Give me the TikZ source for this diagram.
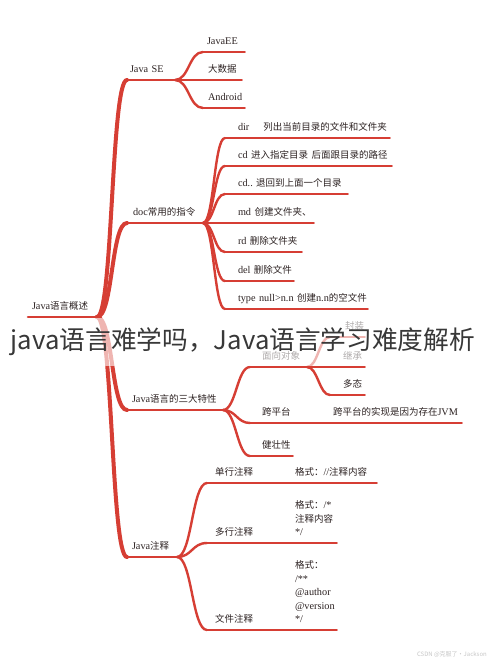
\documentclass[tikz,border=0pt]{standalone}
\usepackage{fontspec}
\setmainfont[Scale=1.08]{Liberation Serif}
\newfontfamily\cjk{Noto Sans CJK SC}
\newfontfamily\titlefont{Noto Sans CJK SC}
\definecolor{mmred}{RGB}{214,62,52}
\definecolor{mmtext}{RGB}{45,35,35}
\newcommand\zh[1]{{\cjk #1}}
\newcommand\cc[4]{\draw[#1] (#2.south east) .. controls +(#4,0) and +(-#4,0) .. (#3.south west);}
\begin{document}
\begin{tikzpicture}[x=1pt,y=-1pt,
  lbl/.style={anchor=south west, inner xsep=0pt, inner ysep=5.3pt, outer sep=0pt, align=left,
    text=mmtext, font=\fontsize{9.5}{13.5}\selectfont,
    execute at end node={\rule[-2.2pt]{0pt}{9pt}}},
  br1/.style={draw=mmred, line width=4pt, line cap=round},
  br2/.style={draw=mmred, line width=2.4pt, line cap=round},
  ul1/.style={draw=mmred, line width=2.6pt, line cap=round},
  ul2/.style={draw=mmred, line width=1.8pt, line cap=round}]
\useasboundingbox (0,0) rectangle (490,663);
\fill[white] (0,0) rectangle (490,663);

% level 0 / 1
\node[lbl, text width=69pt] (root) at (28,317) {\hspace*{4pt}Java\zh{语言概述}};
\node[lbl, text width=48pt] (javase) at (127,80) {\hspace*{3pt}Java~SE};
\node[lbl, text width=76pt] (doc) at (127,223) {\hspace*{6pt}doc\zh{常用的指令}};
\node[lbl, text width=96pt] (tz) at (127,410) {\hspace*{5pt}Java\zh{语言的三大特性}};
\node[lbl, text width=50pt] (zs) at (127,557) {\hspace*{5pt}Java\zh{注释}};

% Java SE
\node[lbl, text width=42pt] (jee) at (203,52) {\hspace*{4pt}JavaEE};
\node[lbl, text width=39pt] (bigdata) at (203,80) {\hspace*{5pt}\zh{大数据}};
\node[lbl, text width=42pt] (android) at (203,108) {\hspace*{5pt}Android};

% doc
\node[lbl, text width=165pt] (d1) at (225,138) {\hspace*{13pt}dir\hspace{14pt}\zh{列出当前目录的文件和文件夹}};
\node[lbl, text width=167pt] (d2) at (225,166) {\hspace*{13pt}cd~\zh{进入指定目录}~\zh{后面跟目录的路径}};
\node[lbl, text width=123pt] (d3) at (225,194) {\hspace*{13pt}cd..~\zh{退回到上面一个目录}};
\node[lbl, text width=89pt] (d4) at (225,223) {\hspace*{13pt}md~\zh{创建文件夹、}};
\node[lbl, text width=77pt] (d5) at (225,252) {\hspace*{13pt}rd~\zh{删除文件夹}};
\node[lbl, text width=69pt] (d6) at (225,281) {\hspace*{13pt}del~\zh{删除文件}};
\node[lbl, text width=143pt] (d7) at (225,309) {\hspace*{13pt}type~null>n.n~\zh{创建}n.n\zh{的空文件}};

% three features
\node[lbl, text width=57pt] (oo) at (250,367) {\hspace*{12pt}\zh{面向对象}};
\node[lbl, text width=35pt] (fz) at (330,337) {\hspace*{15pt}\zh{封装}};
\node[lbl, text width=35pt] (jc) at (330,367) {\hspace*{13pt}\zh{继承}};
\node[lbl, text width=35pt] (dt) at (330,395) {\hspace*{13pt}\zh{多态}};
\node[lbl, text width=43pt] (kpt) at (250,423) {\hspace*{12pt}\zh{跨平台}};
\node[lbl, text width=144pt] (jvm) at (318,423) {\hspace*{15pt}\zh{跨平台的实现是因为存在}JVM};
\node[lbl, text width=43pt] (jzx) at (250,456) {\hspace*{12pt}\zh{健壮性}};

% comments
\node[lbl, text width=86pt] (dh) at (207,483) {\hspace*{8pt}\zh{单行注释}};
\node[lbl, text width=84pt] (dhc) at (293,483) {\hspace*{2pt}\zh{格式：}//\zh{注释内容}};
\node[lbl, text width=86pt] (mh) at (207,543) {\hspace*{8pt}\zh{多行注释}};
\node[lbl, text width=44pt] (mhc) at (293,543) {\hspace*{2pt}\zh{格式：}/*\\\hspace*{2pt}\zh{注释内容}\\\hspace*{2pt}*/};
\node[lbl, text width=86pt] (wj) at (207,630) {\hspace*{8pt}\zh{文件注释}};
\node[lbl, text width=44pt] (wjc) at (293,630) {\hspace*{2pt}\zh{格式：}\\\hspace*{2pt}/**\\\hspace*{2pt}@author\\\hspace*{2pt}@version\\\hspace*{2pt}*/};

% connectors
\foreach \c in {javase,doc,tz,zs} {\cc{br1}{root}{\c}{16}}
\foreach \c in {jee,bigdata,android} {\cc{br2}{javase}{\c}{14}}
\foreach \c in {d1,d2,d3,d4,d5,d6,d7} {\cc{br2}{doc}{\c}{11}}
\foreach \c in {oo,kpt,jzx} {\cc{br2}{tz}{\c}{13}}
\foreach \c in {fz,jc,dt} {\cc{br2}{oo}{\c}{11}}
\foreach \c in {dh,mh,wj} {\cc{br2}{zs}{\c}{15}}
\draw[ul2] (kpt.south east) -- (jvm.south west);
\draw[ul2] (dh.south east) -- (dhc.south west);
\draw[ul2] (mh.south east) -- (mhc.south west);
\draw[ul2] (wj.south east) -- (wjc.south west);

% underlines
\foreach \n in {root,javase,doc,tz,zs} {\draw[ul1] (\n.south west) -- (\n.south east);}
\foreach \n in {jee,bigdata,android,d1,d2,d3,d4,d5,d6,d7,oo,fz,jc,dt,kpt,jvm,jzx,dh,dhc,mh,mhc,wj,wjc}
  {\draw[ul2] (\n.south west) -- (\n.south east);}

% title overlay
\fill[white, opacity=0.62] (0,318) rectangle (490,366);
\node[anchor=base, inner sep=0pt, text=black!78, font=\titlefont\fontsize{25.7}{30}\selectfont] (title) at (243,349) {java语言难学吗，Java语言学习难度解析};

% watermark
\node[anchor=base east, inner sep=0pt, text=black!22, font=\cjk\fontsize{6}{7}\selectfont] (wm) at (487,656) {CSDN @克服了·Jackson};
\end{tikzpicture}
\end{document}
